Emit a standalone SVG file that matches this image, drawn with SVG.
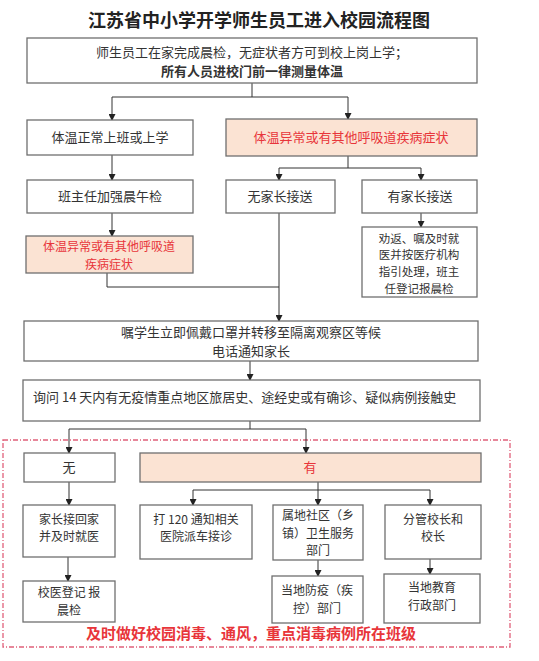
<svg xmlns="http://www.w3.org/2000/svg" width="539" height="661" viewBox="0 0 539 661">
<defs>
<marker id="ah" markerWidth="7" markerHeight="7" refX="6" refY="3.5" orient="auto" markerUnits="userSpaceOnUse">
<path d="M0,0 L7,3.5 L0,7 z" fill="#222"/>
</marker>
<style>
.box{fill:#fff;stroke:#6f6f6f;stroke-width:1.3}
.hot{fill:#fbe3d3;stroke:#6f6f6f;stroke-width:1.3}
.t{font-family:"Noto Sans CJK SC","Liberation Sans",sans-serif;font-size:13px;fill:#333;text-anchor:middle}
.s{font-size:12px}
.xs{font-size:11.5px}
.r{fill:#e8353a}
.b{font-weight:bold}
.c{fill:none;stroke:#333;stroke-width:1}
.a{marker-end:url(#ah)}
</style>
</defs>
<rect width="539" height="661" fill="#fff"/>
<text x="259" y="27" font-family="'Noto Sans CJK SC',sans-serif" font-size="18" font-weight="bold" fill="#222" text-anchor="middle">江苏省中小学开学师生员工进入校园流程图</text>

<rect x="3" y="440" width="507" height="207" fill="none" stroke="#e0607a" stroke-width="1.3" stroke-dasharray="5,2,1,2"/>

<g id="connectors">
<path class="c" d="M252,83 V97 M112,97 H348"/>
<path class="c a" d="M112,97 V120"/>
<path class="c a" d="M348,97 V119"/>
<path class="c a" d="M112,155 V180"/>
<path class="c" d="M348,156 V168 M279,168 H421"/>
<path class="c a" d="M279,168 V180"/>
<path class="c a" d="M421,168 V180"/>
<path class="c a" d="M112,213 V236"/>
<path class="c a" d="M421,213 V227"/>
<path class="c" d="M107,273 V287 H279"/>
<path class="c a" d="M279,213 V321"/>
<path class="c a" d="M250,361 V380"/>
<path class="c" d="M250,421 V429 M69,429 H306"/>
<path class="c a" d="M69,429 V453"/>
<path class="c a" d="M306,429 V453"/>
<path class="c a" d="M69,482 V505"/>
<path class="c" d="M318,482 V490 M193,490 H430"/>
<path class="c a" d="M193,490 V505"/>
<path class="c a" d="M318,490 V505"/>
<path class="c a" d="M430,490 V505"/>
<path class="c a" d="M68,557 V581"/>
<path class="c a" d="M318,560 V576"/>
<path class="c a" d="M430,559 V574"/>
</g>

<g id="n1"><rect class="box" x="27" y="38" width="450" height="45"/>
<text class="t" x="252" y="56.5">师生员工在家完成晨检，无症状者方可到校上岗上学；</text>
<text class="t b" x="252" y="75.5">所有人员进校门前一律测量体温</text></g>

<g id="n2"><rect class="box" x="27" y="120" width="166" height="35"/>
<text class="t" x="110" y="142">体温正常上班或上学</text></g>

<g id="n3"><rect class="hot" x="226" y="119" width="251" height="37"/>
<text class="t r" x="351" y="142">体温异常或有其他呼吸道疾病症状</text></g>

<g id="n4"><rect class="box" x="27" y="180" width="166" height="33"/>
<text class="t" x="110" y="201">班主任加强晨午检</text></g>

<g id="n5"><rect class="box" x="226" y="180" width="109" height="33"/>
<text class="t" x="280" y="201">无家长接送</text></g>

<g id="n6"><rect class="box" x="362" y="180" width="115" height="33"/>
<text class="t" x="420" y="201">有家长接送</text></g>

<g id="n7"><rect class="hot" x="26" y="236" width="167" height="37"/>
<text class="t s r" x="109" y="251">体温异常或有其他呼吸道</text>
<text class="t s r" x="109" y="268.5">疾病症状</text></g>

<g id="n8"><rect class="box" x="362" y="227" width="115" height="70"/>
<text class="t xs" x="419" y="242.5">劝返、嘱及时就</text>
<text class="t xs" x="419" y="259.3">医并按医疗机构</text>
<text class="t xs" x="419" y="276.1">指引处理，班主</text>
<text class="t xs" x="419" y="292.9">任登记报晨检</text></g>

<g id="n9"><rect class="box" x="24" y="321" width="454" height="40"/>
<text class="t" x="251" y="337.2">嘱学生立即佩戴口罩并转移至隔离观察区等候</text>
<text class="t" x="251" y="356.2">电话通知家长</text></g>

<g id="n10"><rect class="box" x="23" y="380" width="457" height="41"/>
<text class="t" x="33" y="402" style="text-anchor:start">询问 14 天内有无疫情重点地区旅居史、途经史或有确诊、疑似病例接触史</text></g>

<g id="n11"><rect class="box" x="24" y="453" width="91" height="29"/>
<text class="t" x="69" y="472">无</text></g>

<g id="n12"><rect class="hot" x="140" y="453" width="341" height="29"/>
<text class="t r" x="310" y="472">有</text></g>

<g id="n13"><rect class="box" x="23" y="505" width="92" height="52"/>
<text class="t s" x="69" y="523.7">家长接回家</text>
<text class="t s" x="69" y="541.2">并及时就医</text></g>

<g id="n14"><rect class="box" x="140" y="505" width="112" height="54"/>
<text class="t s" x="196" y="523.7">打 120 通知相关</text>
<text class="t s" x="196" y="541.2">医院派车接诊</text></g>

<g id="n15"><rect class="box" x="273" y="505" width="90" height="55"/>
<text class="t s" x="318" y="520.3">属地社区（乡</text>
<text class="t s" x="318" y="537.7">镇）卫生服务</text>
<text class="t s" x="318" y="555.1">部门</text></g>

<g id="n16"><rect class="box" x="385" y="505" width="96" height="54"/>
<text class="t s" x="433" y="523.7">分管校长和</text>
<text class="t s" x="433" y="541.2">校长</text></g>

<g id="n17"><rect class="box" x="23" y="581" width="92" height="41"/>
<text class="t s" x="69" y="597.2">校医登记 报</text>
<text class="t s" x="69" y="614.7">晨检</text></g>

<g id="n18"><rect class="box" x="272" y="576" width="91" height="47"/>
<text class="t s" x="317" y="595.2">当地防疫（疾</text>
<text class="t s" x="317" y="612.7">控）部门</text></g>

<g id="n19"><rect class="box" x="384" y="574" width="96" height="49"/>
<text class="t s" x="432" y="592.2">当地教育</text>
<text class="t s" x="432" y="609.7">行政部门</text></g>

<text x="251" y="639" font-family="'Noto Sans CJK SC',sans-serif" font-size="15" font-weight="bold" fill="#e8353a" text-anchor="middle">及时做好校园消毒、通风，重点消毒病例所在班级</text>
</svg>
